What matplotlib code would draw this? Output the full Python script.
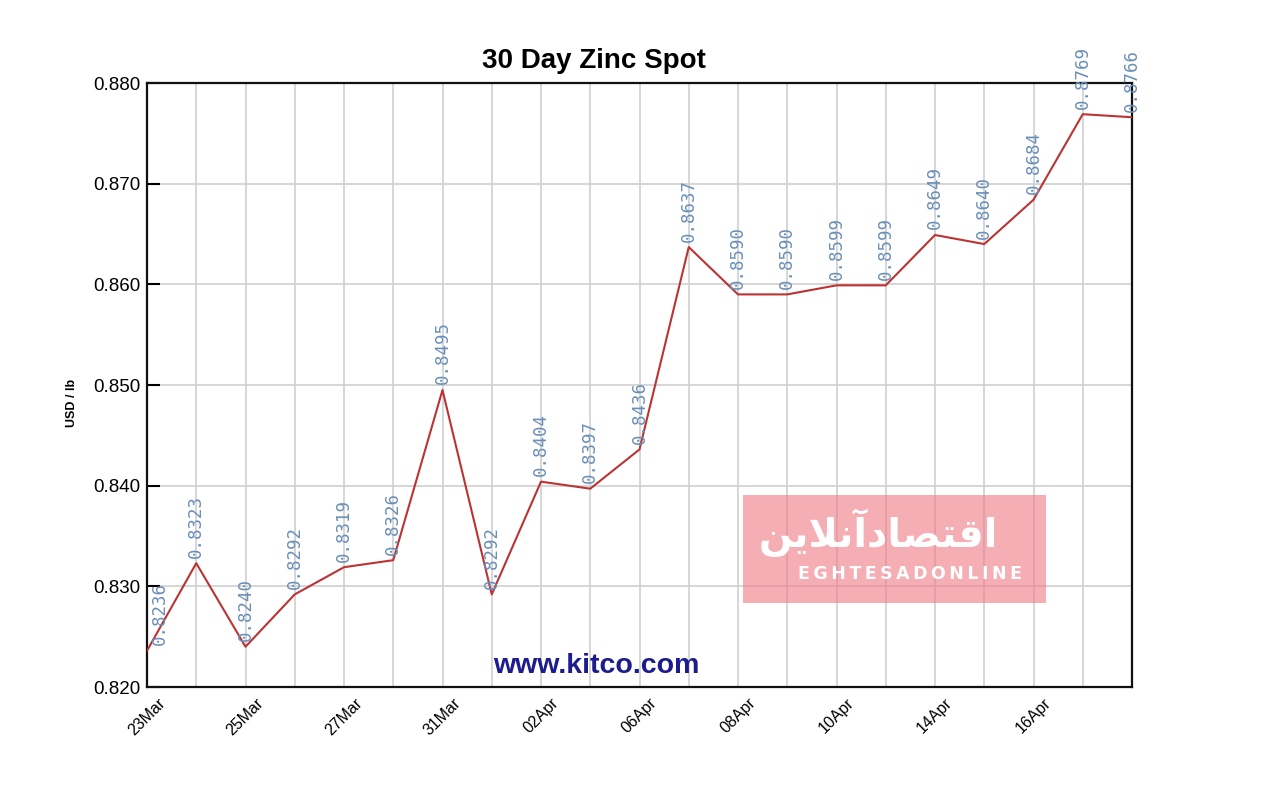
import matplotlib
matplotlib.use("Agg")
import matplotlib.pyplot as plt
from matplotlib.patches import Rectangle

# data
prices = [0.8236, 0.8323, 0.8240, 0.8292, 0.8319, 0.8326, 0.8495, 0.8292,
          0.8404, 0.8397, 0.8436, 0.8637, 0.8590, 0.8590, 0.8599, 0.8599,
          0.8649, 0.8640, 0.8684, 0.8769, 0.8766]
value_labels = ["0.8236", "0.8323", "0.8240", "0.8292", "0.8319", "0.8326",
                "0.8495", "0.8292", "0.8404", "0.8397", "0.8436", "0.8637",
                "0.8590", "0.8590", "0.8599", "0.8599", "0.8649", "0.8640",
                "0.8684", "0.8769", "0.8766"]
tick_pos = [0, 2, 4, 6, 8, 10, 12, 14, 16, 18]
tick_labels = ["23Mar", "25Mar", "27Mar", "31Mar", "02Apr",
               "06Apr", "08Apr", "10Apr", "14Apr", "16Apr"]
y_ticks = [0.820, 0.830, 0.840, 0.850, 0.860, 0.870, 0.880]

x = list(range(len(prices)))

fig = plt.figure(figsize=(12.8, 7.95), dpi=100)
ax = fig.add_axes([147/1280, 1-687/795, (1132-147)/1280, (687-83)/795])

ax.set_xlim(0, len(prices) - 1)
ax.set_ylim(0.820, 0.880)

# grid: a vertical line at every point
for xi in x:
    ax.axvline(xi, color="#cfcfcf", lw=1.2, zorder=0)
for yt in y_ticks:
    ax.axhline(yt, color="#cfcfcf", lw=1.2, zorder=0)

ax.plot(x, prices, color="#bb3333", lw=1.5, zorder=3)

for xi, p, lab in zip(x, prices, value_labels):
    dx = 9 if xi == 0 else 0  # first label is pushed inside the frame
    ax.annotate(lab, (xi, p), xytext=(dx, 4), textcoords="offset points",
                rotation=90, ha="center", va="bottom", color="#6a8fb8",
                fontsize=12.5, family="DejaVu Sans Mono", zorder=4,
                annotation_clip=False)

ax.set_yticks(y_ticks)
ax.set_yticklabels(["%.3f" % v for v in y_ticks], fontsize=13.5,
                   family="Liberation Sans")
ax.set_xticks(tick_pos)
ax.set_xticklabels(tick_labels, rotation=45, ha="center", va="top",
                   fontsize=11.5, family="Liberation Sans")
ax.tick_params(axis="y", direction="in", length=9, width=1.5, pad=5)
ax.tick_params(axis="x", length=0, pad=6)
for s in ax.spines.values():
    s.set_linewidth(1.6)
    s.set_color("#111111")

fig.text(72/1280, 1-403/795, "USD / lb", rotation=90, ha="center", va="center",
         fontsize=9, fontweight="bold", family="Liberation Sans")
fig.text(594/1280, 1-61/795, "30 Day Zinc Spot", ha="center", va="center",
         fontsize=20, fontweight="bold", family="Liberation Sans")
fig.text(596/1280, 1-666/795, "www.kitco.com", ha="center", va="center",
         fontsize=20.5, fontweight="bold", color="#1c1c8e", family="Liberation Sans")

# news site watermark
fig.patches.append(Rectangle((743/1280, 1-603/795), 303/1280, 108/795,
                             transform=fig.transFigure, facecolor="#f07884",
                             alpha=0.6, edgecolor="none", zorder=5))
fig.text(878/1280, 1-533/795, "\ufee6\ufef3\ufefc\ufee7\ufe81\ufea9\ufe8e\ufebc\ufe98\ufed7\ufe8d",
         ha="center", va="center", fontsize=28.5, fontweight="bold", color="white",
         family="DejaVu Sans", zorder=6)
fig.text(910/1280, 1-574/795, "\u2009".join("EGHTESADONLINE"), ha="center", va="center",
         fontsize=12.5, fontweight="bold", color="white", family="DejaVu Sans",
         zorder=6)

fig.savefig("out.png", dpi=100, facecolor="white")
